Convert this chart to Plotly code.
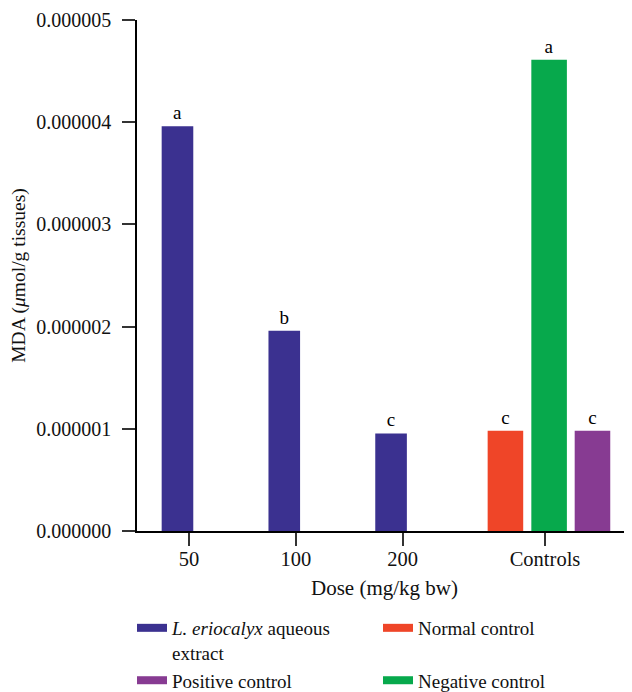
import numpy as np
import plotly.graph_objects as go

# ---- data ----
dose_labels = ["50", "100", "200"]
extract_values = [3.96e-6, 1.96e-6, 0.955e-6]
extract_letters = ["a", "b", "c"]

control_tick = "Controls"
control_names = ["Normal control", "Negative control", "Positive control"]
control_values = [0.98e-6, 4.61e-6, 0.98e-6]
control_letters = ["c", "a", "c"]

y_tickvals = [0, 1e-6, 2e-6, 3e-6, 4e-6, 5e-6]
y_ticktext = ["0.000000", "0.000001", "0.000002", "0.000003", "0.000004", "0.000005"]

extract_name = "<i>L. eriocalyx</i> aqueous<br>extract"

# ---- styles ----
FONT = "Liberation Serif"
c_extract = "#3B3190"
control_colors = ["#EF4528", "#07A94C", "#873B92"]
control_offsets = [-0.537, -0.128, 0.278]

dose_pos = np.arange(len(dose_labels))
control_pos = len(dose_labels) + 1 / 3

fig = go.Figure()

fig.add_trace(go.Bar(
    x=dose_pos, y=extract_values, text=extract_letters,
    textposition="outside", width=0.296, offset=-0.256,
    marker=dict(color=c_extract, line=dict(width=0)),
    textfont=dict(family=FONT, size=19, color="black"),
    showlegend=False, cliponaxis=False,
))
for name, val, let, col, off in zip(control_names, control_values, control_letters,
                                    control_colors, control_offsets):
    fig.add_trace(go.Bar(
        x=[control_pos], y=[val], text=[let], textposition="outside",
        width=0.333, offset=off,
        marker=dict(color=col, line=dict(width=0)),
        textfont=dict(family=FONT, size=19, color="black"),
        showlegend=False, cliponaxis=False, name=name,
    ))

# legend entries (row-major: extract, normal, positive, negative)
legend_items = [(extract_name, c_extract),
                (control_names[0], control_colors[0]),
                (control_names[2], control_colors[2]),
                (control_names[1], control_colors[1])]
for name, col in legend_items:
    fig.add_trace(go.Scatter(
        x=[None], y=[None], mode="lines", name=name,
        line=dict(color=col, width=8), showlegend=True,
    ))

fig.update_layout(
    width=624, height=684,
    margin=dict(l=129, r=0, t=12, b=161, autoexpand=False),
    plot_bgcolor="white", paper_bgcolor="white",
    font=dict(family=FONT, size=20, color="#111"),
    barmode="overlay",
    showlegend=True,
    legend=dict(
        orientation="h", x=-0.0101, xanchor="left", y=-0.1526, yanchor="top",
        entrywidth=201, entrywidthmode="pixels", valign="top",
        font=dict(family=FONT, size=19, color="#111"),
        itemwidth=30, tracegroupgap=0,
    ),
    xaxis=dict(
        range=[-0.487, 4.148],
        tickmode="array",
        tickvals=list(dose_pos) + [control_pos],
        ticktext=dose_labels + [control_tick],
        ticks="outside", ticklen=13, tickwidth=1.5, tickcolor="#333",
        ticklabelstandoff=-4,
        showline=True, linecolor="black", linewidth=1.5,
        showgrid=False, zeroline=False,
        title=dict(text="Dose (mg/kg bw)", standoff=11,
                   font=dict(family=FONT, size=21)),
        tickfont=dict(family=FONT, size=20.5),
    ),
    yaxis=dict(
        range=[0, 5e-6],
        tickmode="array", tickvals=y_tickvals, ticktext=y_ticktext,
        ticks="outside", ticklen=13, tickwidth=1.5, tickcolor="#333",
        ticklabelstandoff=7,
        showline=True, linecolor="black", linewidth=1.5,
        showgrid=False, zeroline=False,
        title=dict(text="MDA (<i>μ</i>mol/g tissues)", standoff=7,
                   font=dict(family=FONT, size=19.5)),
        tickfont=dict(family=FONT, size=20),
    ),
)

fig.write_html("out.html")
